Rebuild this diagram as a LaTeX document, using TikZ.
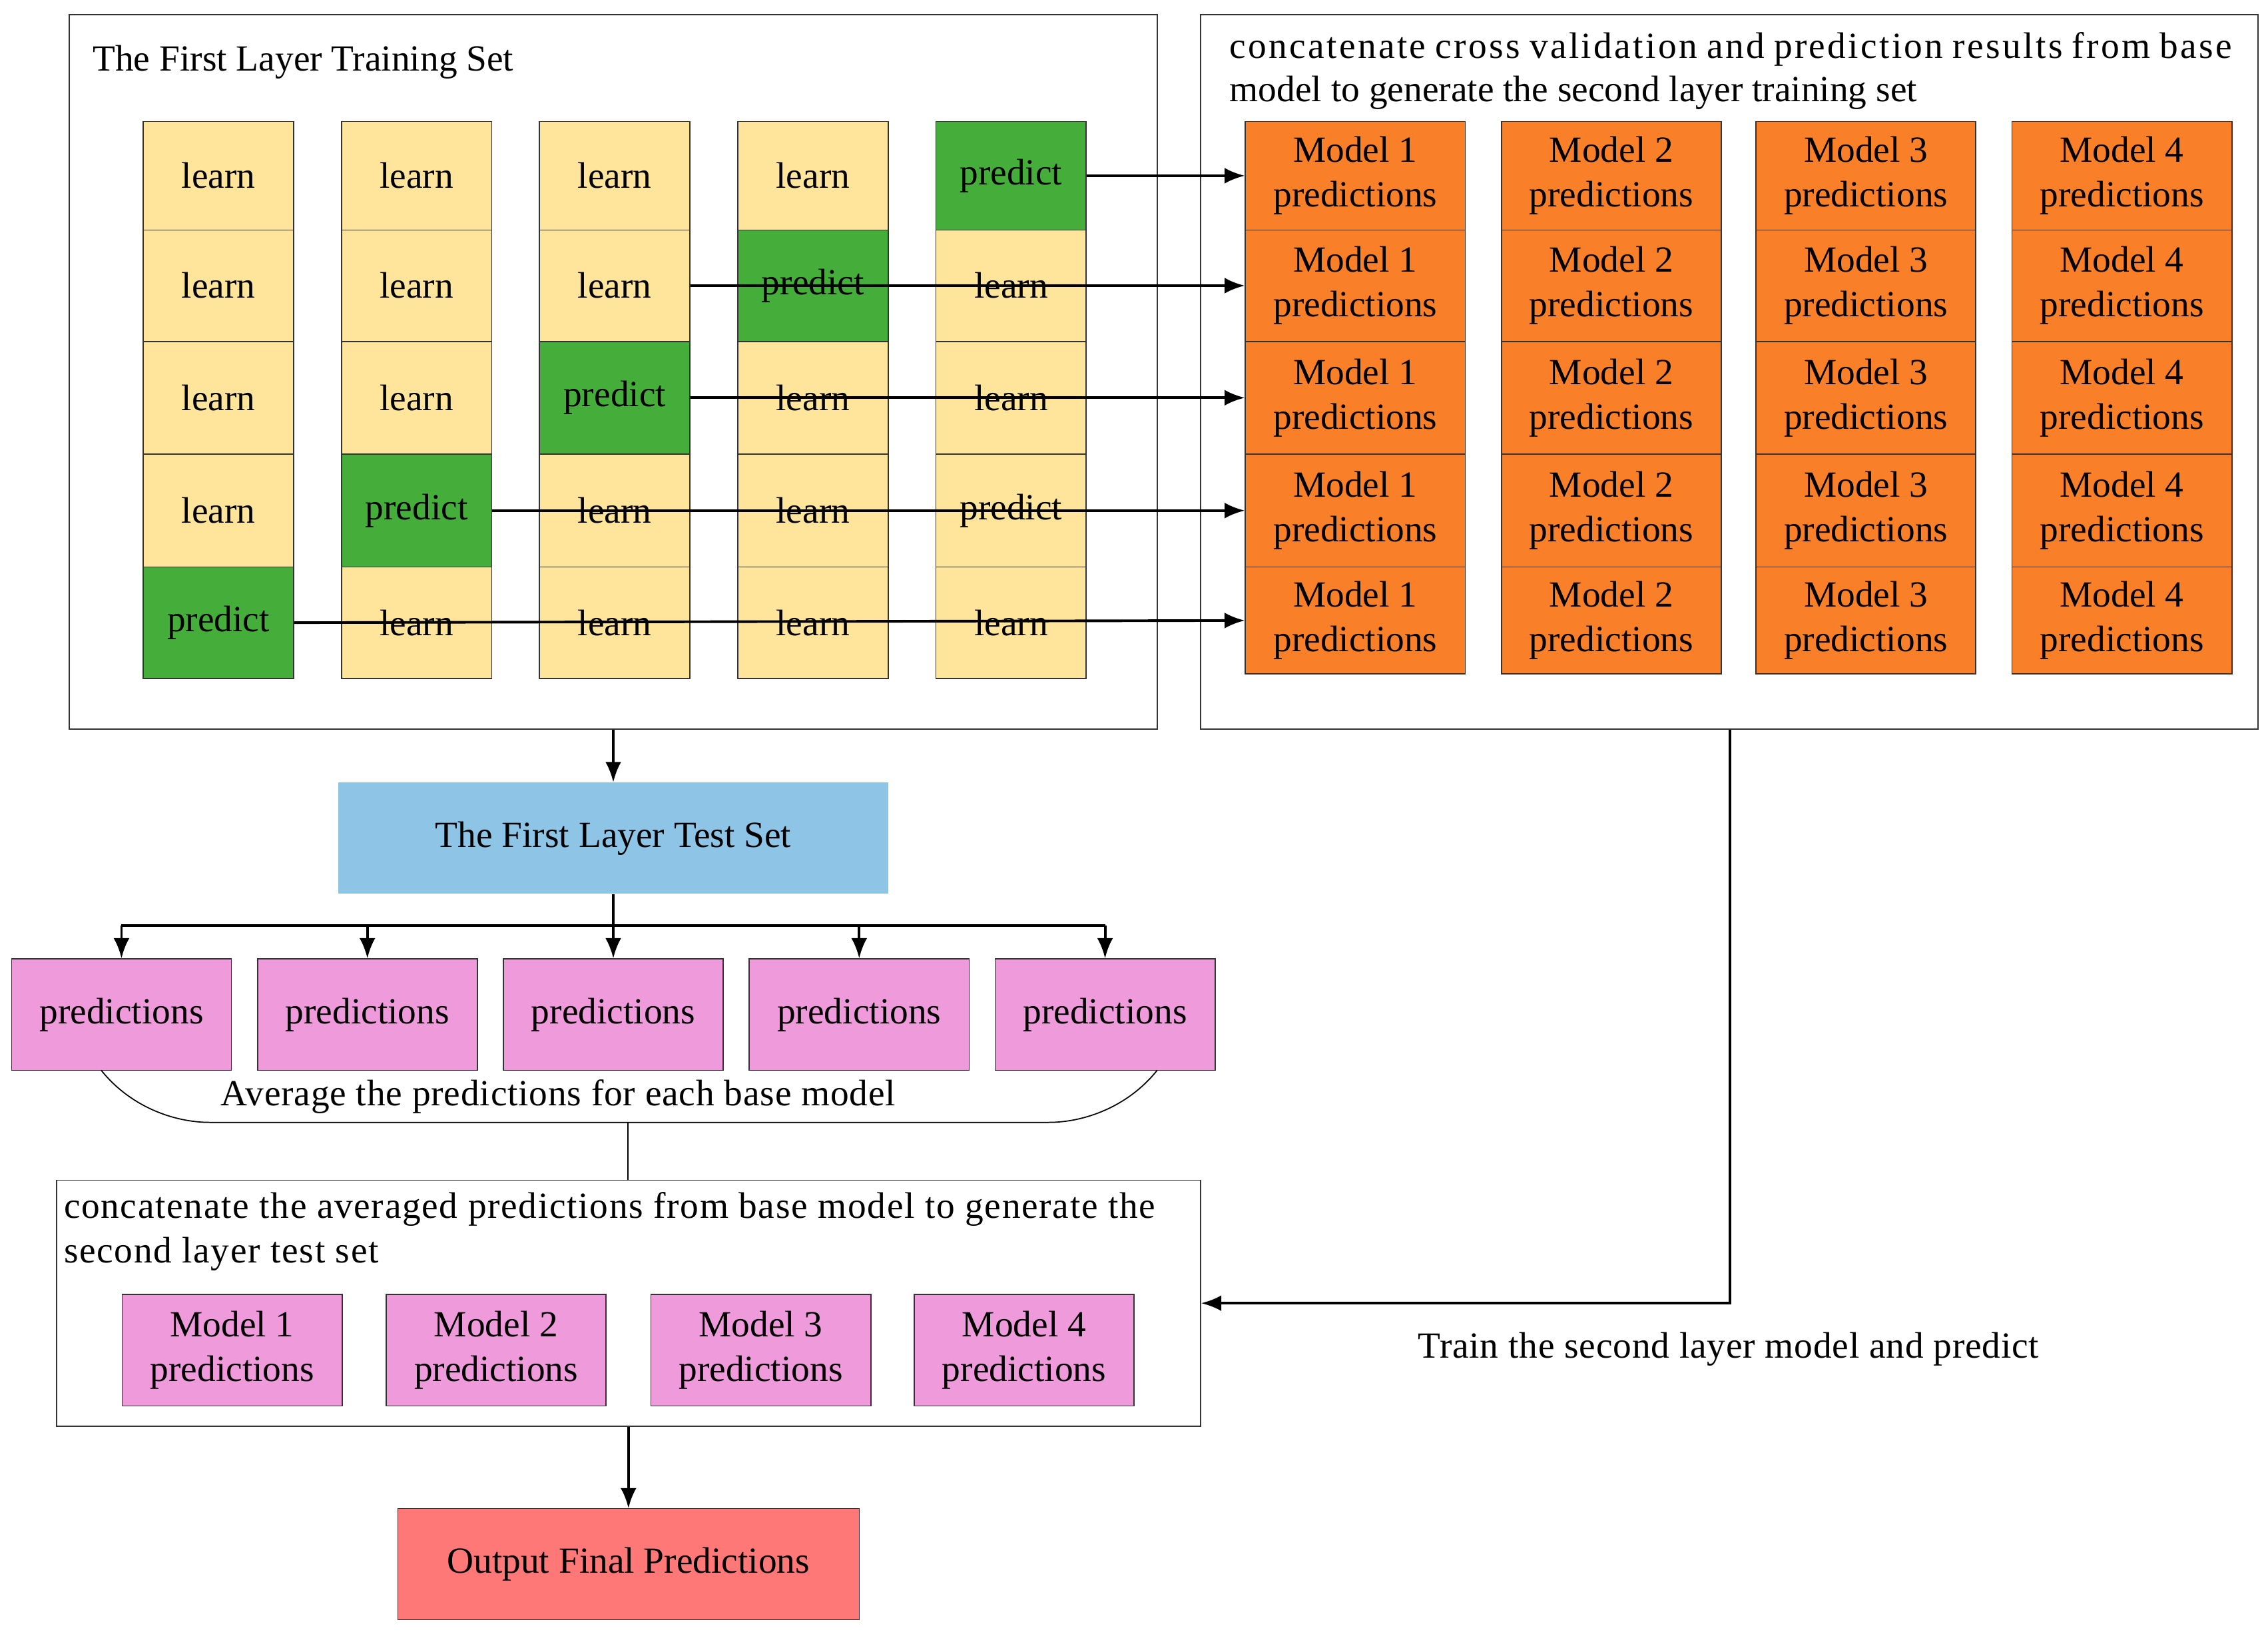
\documentclass[tikz,border=0pt]{standalone}
\usepackage{fontspec}
\setmainfont{Liberation Serif}
\usetikzlibrary{arrows.meta}
\definecolor{yel}{HTML}{FFE59B}
\definecolor{grn}{HTML}{45AE3A}
\definecolor{org}{HTML}{F98028}
\definecolor{blu}{HTML}{8EC5E7}
\definecolor{pnk}{HTML}{EE9ADB}
\definecolor{rd}{HTML}{FF7878}
\begin{document}
\begin{tikzpicture}[x=1pt,y=-1pt,
  every node/.style={font=\fontsize{25.5}{29}\selectfont},
  box/.style={draw=black!80,line width=0.8pt},
  cell/.style={draw=black!80,line width=0.8pt,inner sep=0pt,minimum width=104pt},
  arr/.style={-{Latex[length=14pt,width=11pt]},line width=1.8pt},
  ln/.style={line width=1.8pt}]
\useasboundingbox (0,0) rectangle (1568,1131);
% left box
\node[box,minimum width=752pt,minimum height=494pt,inner sep=0pt] (L) at (424,257) {};
\node[anchor=west,inner sep=0pt] (Lt) at (64,43) {The First Layer Training Set};
\foreach \c/\x in {1/151,2/288,3/425,4/562,5/699}{
 \foreach \r/\y/\h in {1/121.5/75,2/197.5/77,3/275/78,4/353/78,5/430.5/77}{
   \node[cell,fill=yel,minimum height=\h pt] (c\c\r) at (\x,\y) {learn};
 }}
\node[cell,fill=grn,minimum height=75pt] (c51) at (699,121.5) {predict};
\node[cell,fill=grn,minimum height=77pt] (c42) at (562,197.5) {predict};
\node[cell,fill=grn,minimum height=78pt] (c33) at (425,275) {predict};
\node[cell,fill=grn,minimum height=78pt] (c24) at (288,353) {predict};
\node[cell,fill=grn,minimum height=77pt] (c15) at (151,430.5) {predict};
\node[cell,fill=yel,minimum height=78pt] (c54) at (699,353) {predict};
% right box
\node[box,minimum width=731pt,minimum height=494pt,inner sep=0pt] (R) at (1195.5,257) {};
\node[anchor=north west,inner sep=0pt,align=left,font=\fontsize{25.5}{30}\selectfont] (Rt) at (850,22) {\makebox[693pt][s]{\addfontfeature{LetterSpace=6}concatenate cross validation and prediction results from base}\\model to generate the second layer training set};
\foreach \c/\x in {1/937,2/1114,3/1290,4/1467}{
 \foreach \r/\y/\h in {1/121.5/75,2/197.5/77,3/275/78,4/353/78,5/429/74}{
   \node[cell,fill=org,minimum width=152pt,minimum height=\h pt,align=center,font=\fontsize{25.5}{31}\selectfont] (m\c\r) at (\x,\y) {Model \c\\predictions};
 }}
\draw[arr] (c51.east) -- (m11.west);
\draw[arr] (c33.east |- c42.east) -- (m12.west);
\draw[arr] (c33.east) -- (m13.west);
\draw[arr] (c24.east) -- (m14.west);
\draw[arr] (c15.east) -- (m15.west);
% test set
\node[fill=blu,minimum width=380pt,minimum height=77pt,inner sep=0pt] (T) at (424,579.5) {The First Layer Test Set};
\draw[arr] (L.south -| T) -- (T.north);
\foreach \i/\x in {1/84,2/254,3/424,4/594,5/764}{
  \node[cell,fill=pnk,minimum width=152pt,minimum height=77pt] (p\i) at (\x,701.5) {predictions};
}
\coordinate (J) at (424,640);
\draw[ln] (T.south) -- (J);
\draw[ln] (p1.north |- J) -- (p5.north |- J);
\foreach \i in {1,...,5}{\draw[arr] (p\i.north |- J) -- (p\i.north);}
\coordinate (b1) at (70,740); \coordinate (b2) at (800,740);
\draw[line width=0.8pt] (b1) .. controls (90,765) and (120,776) .. (145,776) -- (725,776) .. controls (750,776) and (780,765) .. (b2);
\node (avg) at (386,758) {\addfontfeature{LetterSpace=1.5}Average the predictions for each base model};
% bottom box
\node[box,minimum width=791pt,minimum height=170pt,inner sep=0pt] (B) at (434.5,901) {};
\draw[line width=0.8pt] (434,776) -- (B.north -| 434,0);
\node[anchor=north west,inner sep=0pt,align=left,font=\fontsize{25.5}{31}\selectfont\addfontfeature{LetterSpace=3}] (Bt) at (44,824) {concatenate the averaged predictions from base model to generate the\\second layer test set};
\foreach \c/\x in {1/160.5,2/343,3/526,4/708}{
  \node[cell,fill=pnk,minimum width=152pt,minimum height=77pt,align=center,font=\fontsize{25.5}{31}\selectfont] (n\c) at (\x,933.5) {Model \c\\predictions};
}
\draw[arr] (R.south -| 1196,0) -- (1196,901) -- (B.east);
\node (tr) at (1195,933) {\addfontfeature{LetterSpace=1.5}Train the second layer model and predict};
\node[draw=black!80,fill=rd,minimum width=319pt,minimum height=77pt,inner sep=0pt] (O) at (434.5,1081.5) {Output Final Predictions};
\draw[arr] (B.south -| O) -- (O.north);
\end{tikzpicture}
\end{document}
